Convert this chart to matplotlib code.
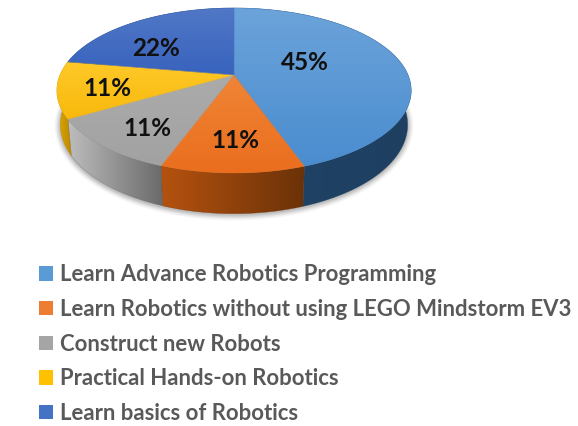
import numpy as np
import matplotlib
matplotlib.use("Agg")
import matplotlib.pyplot as plt
from matplotlib.patches import Polygon, Patch
from matplotlib.colors import LinearSegmentedColormap

categories = ["Learn Advance Robotics Programming",
              "Learn Robotics without using LEGO Mindstorm EV3",
              "Construct new Robots",
              "Practical Hands-on Robotics",
              "Learn basics of Robotics"]
values = [44.6, 11.0, 11.0, 11.1, 22.3]
value_labels = [f"{round(v)}%" for v in values]

legend_colors = ["#5B9BD5", "#ED7D31", "#A5A5A5", "#FFC000", "#4472C4"]
top_colors = [("#6CA3DA", "#4A8DCF"), ("#F08536", "#EA6E1E"), ("#ABABAB", "#A2A2A2"),
              ("#FFC929", "#F8B90C"), ("#5178C6", "#3863BE")]
wall_colors = [("#1F4468", "#1E3F60"), ("#B5520F", "#6B3208"), ("#BDBDBD", "#6A6A6A"),
               ("#E0A600", "#B98900"), ("#27457A", "#27457A")]
label_xy = [(305, 62), (235, 141), (147, 129), (107, 89), (156, 48)]

W, H = 578, 426
APEX = (234.0, 75.0)
K, A, B = 0.188, 79.6, 174.0   # perspective of the pie's top face
DEPTH, INSET = 33.0, 0.98


def project(t, r=1.0):
    X, Y = r * np.sin(t), r * np.cos(t)
    w = 1 + K * Y
    return APEX[0] + B * X / w, APEX[1] - A * Y / w, w


def project_base(t):
    x, y, w = project(t)
    return APEX[0] + INSET * (x - APEX[0]), y + DEPTH / w


def gradient_fill(ax, verts, c0, c1, horizontal, zorder):
    poly = Polygon(verts, closed=True, fc="none", ec="none", transform=ax.transData)
    ax.add_patch(poly)
    cmap = LinearSegmentedColormap.from_list("g", [c0, c1])
    xs, ys = verts[:, 0], verts[:, 1]
    grad = np.linspace(0, 1, 128)
    grad = grad[None, :] if horizontal else grad[:, None]
    im = ax.imshow(grad, cmap=cmap, vmin=0, vmax=1, origin="upper", aspect="auto",
                   extent=(xs.min(), xs.max(), ys.max(), ys.min()),
                   interpolation="bilinear", zorder=zorder)
    im.set_clip_path(poly)
    ax.add_patch(Polygon(verts, closed=True, fc="none",
                         ec=matplotlib.colors.to_rgba(c1, 0.6), lw=0.4, zorder=zorder + 0.1))


plt.rcParams["font.family"] = ["Lato", "DejaVu Sans"]
fig = plt.figure(figsize=(W / 100, H / 100), dpi=100, facecolor="white")
ax = fig.add_axes([0, 0, 1, 1])
ax.set_xlim(0, W)
ax.set_ylim(H, 0)
ax.axis("off")

fractions = np.array(values, dtype=float) / sum(values)
edges = np.concatenate([[0], np.cumsum(fractions)]) * 2 * np.pi

# soft shadow below the pie
tt = np.linspace(0, 2 * np.pi, 240)
bx, by = project_base(tt)
for grow, alpha in zip(np.linspace(6, 1, 6), [0.025, 0.03, 0.04, 0.05, 0.06, 0.07]):
    cx, cy = bx.mean(), by.mean()
    sx = 1 + grow / (bx.max() - cx)
    sy = 1 + grow / (by.max() - cy)
    ax.add_patch(Polygon(np.c_[cx + (bx - cx) * sx, cy + (by - cy) * sy + 1],
                         closed=True, fc="black", ec="none", alpha=alpha, zorder=1))

# side walls, then top faces
for i in range(len(values)):
    t = np.linspace(edges[i], edges[i + 1], 120)
    rx, ry, _ = project(t)
    qx, qy = project_base(t)
    wall = np.r_[np.c_[rx, ry], np.c_[qx, qy][::-1]]
    gradient_fill(ax, wall, wall_colors[i][0], wall_colors[i][1], True, 2 + i * 0.01)

for i in range(len(values)):
    t = np.linspace(edges[i], edges[i + 1], 120)
    rx, ry, _ = project(t)
    face = np.r_[[APEX], np.c_[rx, ry]]
    gradient_fill(ax, face, top_colors[i][0], top_colors[i][1], False, 3 + i * 0.01)

for (x, y), s in zip(label_xy, value_labels):
    ax.text(x, y, s, ha="center", va="center", fontsize=17.5, fontweight="bold",
            color="#111111", zorder=5)

handles = [Patch(fc=c, ec="none") for c in legend_colors]
ax.legend(handles, categories, loc="upper left", bbox_to_anchor=(35 / W, 1 - 260 / H),
          frameon=False, ncol=1, labelcolor="#595959",
          prop={"weight": "bold", "size": 15.9}, handlelength=0.63, handleheight=0.63,
          handletextpad=0.29, labelspacing=0.614, borderpad=0.2, borderaxespad=0)

ax.set_xlim(0, W)
ax.set_ylim(H, 0)
fig.savefig("out.png", dpi=100, facecolor="white")
